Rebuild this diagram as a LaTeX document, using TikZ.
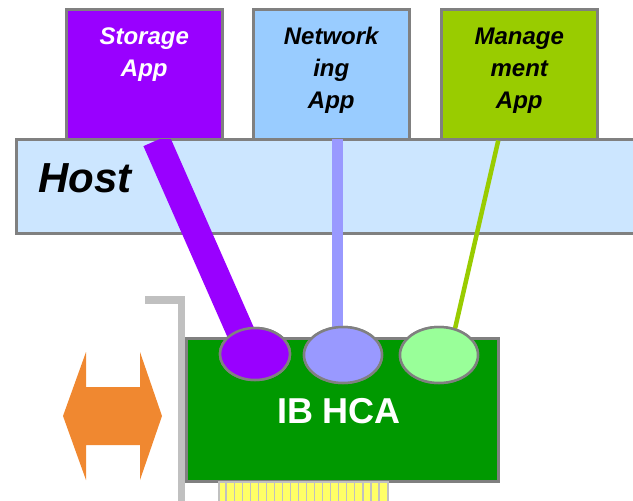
\documentclass[tikz,border=0pt]{standalone}
\usepackage{fontspec}
\setmainfont{Liberation Sans}
\usetikzlibrary{calc,shapes.geometric}
\definecolor{bordergray}{HTML}{808080}
\definecolor{storagecol}{HTML}{9900FF}
\definecolor{netcol}{HTML}{99CCFF}
\definecolor{mgmtcol}{HTML}{99CC00}
\definecolor{hostcol}{HTML}{CCE6FF}
\definecolor{netline}{HTML}{9999FF}
\definecolor{mgmtell}{HTML}{99FF99}
\definecolor{cardcol}{HTML}{009900}
\definecolor{pincol}{HTML}{FFFF66}
\definecolor{bracketcol}{HTML}{C0C0C0}
\definecolor{arrowcol}{HTML}{F08830}
\tikzset{
  appbox/.style={draw=bordergray, line width=2.5pt, minimum width=156pt, minimum height=130pt, inner sep=0pt},
  apptext/.style={font=\fontsize{24}{32}\selectfont\bfseries\itshape, align=center},
  port/.style={ellipse, draw=bordergray, line width=2.5pt, inner sep=0pt},
}
\begin{document}
\begin{tikzpicture}[x=1pt,y=-1pt]
\useasboundingbox (0,0) rectangle (633,501);
% host bar
\node[draw=bordergray, fill=hostcol, line width=2.5pt, minimum width=640pt, minimum height=94pt, inner sep=0pt, anchor=north west] (host) at (15,138) {};
\node[font=\fontsize{42}{42}\selectfont\bfseries\itshape, anchor=west] (hosttext) at (35,178) {Host};
% app boxes
\node[appbox, fill=storagecol, anchor=north west] (storage) at (65,8) {};
\node[appbox, fill=netcol, anchor=north west] (network) at (252,8) {};
\node[appbox, fill=mgmtcol, anchor=north west] (mgmt) at (440,8) {};
\node[apptext, text=white, anchor=north] (stext) at ($(storage.north)+(0,16)$) {Storage\\App};
\node[apptext, anchor=north] (ntext) at ($(network.north)+(0,16)$) {Network\\ing\\App};
\node[apptext, anchor=north] (mtext) at ($(mgmt.north)+(0,16)$) {Manage\\ment\\App};
% bracket
\fill[bracketcol] (145,296) rectangle (185,304);
\fill[bracketcol] (178,296) rectangle (185,501);
% card
\node[draw=bordergray, fill=cardcol, line width=2.5pt, minimum width=312pt, minimum height=143pt, inner sep=0pt, anchor=north west] (card) at (185,337) {};
\node[text=white, font=\fontsize{36}{36}\selectfont\bfseries] (cardtext) at (339,411) {IB HCA};
% pins
\node[draw=bracketcol, fill=pincol, line width=1.5pt, minimum width=169pt, minimum height=21pt, inner sep=0pt, anchor=north west] (pins) at (218,481) {};
\foreach \i in {1,...,20} {
  \draw[bracketcol, line width=1.2pt] ($(pins.north west)+(\i*8.05,0)$) -- ($(pins.south west)+(\i*8.05,0)$);
}
% ports
\node[port, fill=storagecol, minimum width=70pt, minimum height=52pt] (sport) at (255,354) {};
\node[port, fill=netline, minimum width=78pt, minimum height=56pt] (nport) at (343,355) {};
\node[port, fill=mgmtell, minimum width=78pt, minimum height=56pt] (mport) at (439,355) {};
% connectors
\coordinate (stop) at ($(storage.south)+(12,0)$);
\coordinate (ntop) at (337,136);
\coordinate (nbot) at (ntop |- nport.center);
\coordinate (mtop) at ($(mgmt.south)+(-21,0)$);
\coordinate (mbot) at ($(mport.north)+(16,3)$);
\begin{scope}
\clip (0,139) rectangle (633,501);
\draw[storagecol, line width=28pt] (stop) -- ($(sport.center)+(-7,-5)$);
\draw[netline, line width=11pt] (ntop) -- (nbot);
\draw[mgmtcol, line width=4.5pt] (mtop) -- (mbot);
\end{scope}
% redraw ports on top
\node[port, fill=storagecol, minimum width=70pt, minimum height=52pt] at (sport) {};
\node[port, fill=netline, minimum width=78pt, minimum height=56pt] at (nport) {};
\node[port, fill=mgmtell, minimum width=78pt, minimum height=56pt] at (mport) {};
% double arrow
\fill[arrowcol] (63,416) -- (86,352) -- (86,387) -- (140,387) -- (140,352) -- (162,416) -- (140,480) -- (140,445) -- (86,445) -- (86,480) -- cycle;
\end{tikzpicture}
\end{document}
